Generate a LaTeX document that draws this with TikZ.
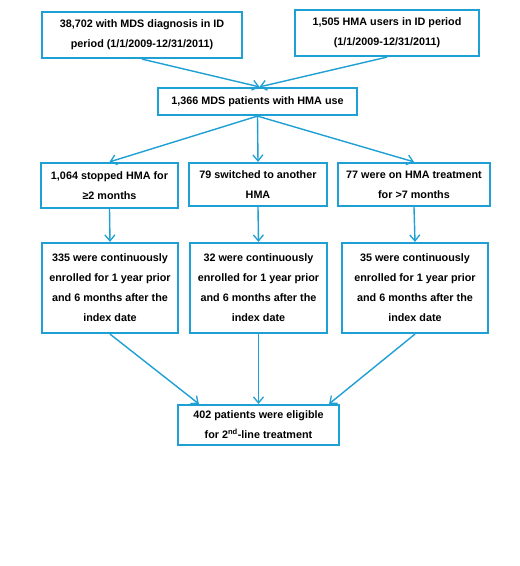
\documentclass[tikz,border=0pt]{standalone}
\usepackage{fontspec}
\setmainfont{Liberation Sans}
\usetikzlibrary{arrows.meta}
\definecolor{boxblue}{RGB}{30,160,212}
\tikzset{
  box/.style={draw=boxblue, line width=2.2pt, fill=white, align=center, inner sep=1pt,
    font=\fontsize{10.8}{20}\selectfont\bfseries},
  conn/.style={draw=boxblue, line width=1.4pt, -{Straight Barb[length=6pt,width=10pt,line width=1.3pt]}}
}
\begin{document}
\begin{tikzpicture}[x=1pt,y=-1pt]
\useasboundingbox (0,0) rectangle (520,566);
\fill[white] (0,0) rectangle (520,566);
\node[box, minimum width=200pt, minimum height=46pt] (b1) at (142,35) {38,702 with MDS diagnosis in ID\\period (1/1/2009-12/31/2011)};
\node[box, minimum width=184pt, minimum height=46pt] (b2) at (387,33) {1,505 HMA users in ID period\\(1/1/2009-12/31/2011)};
\node[box, minimum width=199pt, minimum height=27pt] (b3) at (257.5,101.5) {1,366 MDS patients with HMA use};
\node[box, minimum width=137pt, minimum height=45pt] (b4) at (109.5,185.5) {1,064 stopped HMA for\\≥2 months};
\node[box, minimum width=138pt, minimum height=43pt] (b5) at (258,184.5) {79 switched to another\\HMA};
\node[box, minimum width=152pt, minimum height=43pt] (b6) at (414,184.5) {77 were on HMA treatment\\for >7 months};
\node[box, minimum width=136pt, minimum height=90pt] (b7) at (110,288) {335 were continuously\\enrolled for 1 year prior\\and 6 months after the\\index date};
\node[box, minimum width=137pt, minimum height=90pt] (b8) at (258.5,288) {32 were continuously\\enrolled for 1 year prior\\and 6 months after the\\index date};
\node[box, minimum width=146pt, minimum height=90pt] (b9) at (415,288) {35 were continuously\\enrolled for 1 year prior\\and 6 months after the\\index date};
\node[box, minimum width=161pt, minimum height=40pt] (b10) at (258.5,425) {402 patients were eligible\\for 2\textsuperscript{nd}-line treatment};
\draw[conn] (b1.south) -- ([xshift=2pt]b3.north);
\draw[conn] (b2.south) -- ([xshift=2pt]b3.north);
\draw[conn] (b3.south) -- (b4.north);
\draw[conn] (b3.south) -- (b5.north);
\draw[conn] (b3.south) -- (b6.north);
\draw[conn] (b4.south) -- (b7.north);
\draw[conn] (b5.south) -- (b8.north);
\draw[conn] (b6.south) -- (b9.north);
\draw[conn] (b7.south) -- ([xshift=22pt]b10.north west);
\draw[conn] (b8.south) -- (b10.north);
\draw[conn] (b9.south) -- ([xshift=-11pt]b10.north east);
\end{tikzpicture}
\end{document}
